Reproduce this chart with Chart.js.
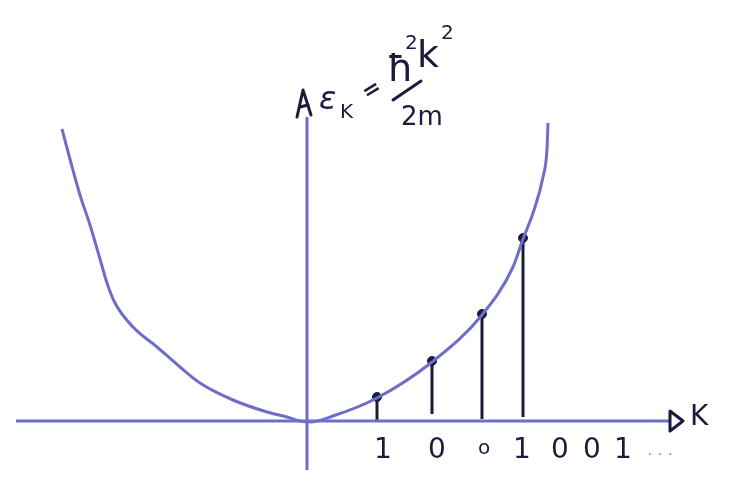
<!DOCTYPE html>
<html><head><meta charset="utf-8">
<script src="https://cdn.jsdelivr.net/npm/chart.js@4"></script>
<style>html,body{margin:0;padding:0;background:#fff}#w{width:747px;height:498px;position:relative}</style>
</head><body><div id="w"><canvas id="c"></canvas></div>
<script>
// Dispersion curve E_k = ħ²k²/2m (k and E in sketch units)
const curveK = [-2.46,-2.37,-2.28,-2.18,-2.08,-2.01,-1.93,-1.75,-1.51,-1.28,-1.08,-0.75,-0.41,-0.21,-0.08,0.02,0.25,0.69,1.24,1.74,2.05,2.15,2.25,2.35,2.39,2.40];
const curveE = [2.92,2.58,2.26,1.96,1.62,1.38,1.18,0.94,0.74,0.54,0.38,0.21,0.09,0.04,0.00,-0.01,0.05,0.23,0.59,1.06,1.54,1.82,2.08,2.44,2.72,2.98];
// occupied states (stems)
const stemK = [0.69,1.24,1.74,2.15];
const stemTopE = [0.24,0.60,1.07,1.83];
const stemBottomE = [0.00,0.07,0.02,0.04];
// bit string under the k axis
const bitLabels = ['1','0','o','1','0','0','1','. . .'];
const bitK = [0.75,1.29,1.76,2.14,2.52,2.84,3.15,3.52];
// axes extents
const kAxis = [-2.92,3.62];
const eAxis = [-0.49,3.04];

const BLUE = '#6e6ec8', NAVY = '#1b1b3d';
const datasets = [];
datasets.push({data:[{x:kAxis[0],y:0},{x:kAxis[1],y:0}],borderColor:BLUE,borderWidth:3,showLine:true,pointRadius:0});
datasets.push({data:[{x:-0.01,y:eAxis[0]},{x:-0.01,y:eAxis[1]}],borderColor:BLUE,borderWidth:3,showLine:true,pointRadius:0});
datasets.push({data:curveK.map((k,i)=>({x:k,y:curveE[i]})),borderColor:BLUE,borderWidth:3,showLine:true,pointRadius:0,cubicInterpolationMode:'monotone'});
stemK.forEach((k,i)=>{
  datasets.push({data:[{x:k,y:stemBottomE[i]},{x:k,y:stemTopE[i]}],borderColor:NAVY,borderWidth:3,showLine:true,pointRadius:0});
});
datasets.push({data:stemK.map((k,i)=>({x:k,y:stemTopE[i]})),showLine:false,pointRadius:4.5,pointBackgroundColor:NAVY,pointBorderColor:NAVY});

const deco = {
  id:'deco',
  afterDatasetsDraw(chart){
    const ctx = chart.ctx, xs = chart.scales.x, ys = chart.scales.y;
    ctx.save();
    ctx.strokeStyle = NAVY; ctx.fillStyle = NAVY; ctx.lineWidth = 3; ctx.lineCap='round'; ctx.lineJoin='round';
    // right arrow head
    const ax = xs.getPixelForValue(kAxis[1]), ay = ys.getPixelForValue(0);
    ctx.beginPath(); ctx.moveTo(ax,ay-10); ctx.lineTo(ax+13,ay); ctx.lineTo(ax,ay+10); ctx.closePath(); ctx.stroke();
    ctx.font = '28px "DejaVu Sans"'; ctx.textBaseline='middle'; ctx.textAlign='left';
    ctx.fillText('K', ax+20, ay-3);
    // top arrow head
    const tx = xs.getPixelForValue(-0.01), ty = ys.getPixelForValue(eAxis[1]);
    ctx.beginPath(); ctx.moveTo(tx-10,ty); ctx.lineTo(tx-4,ty-27); ctx.lineTo(tx+4,ty-2); ctx.stroke();
    ctx.beginPath(); ctx.moveTo(tx-7,ty-10); ctx.lineTo(tx+1,ty-12); ctx.stroke();
    // formula
    ctx.textBaseline='alphabetic';
    ctx.font = 'italic 32px "DejaVu Sans"'; ctx.fillText('\u03b5', tx+12, ty-8);
    ctx.font = '20px "DejaVu Sans"'; ctx.fillText('K', tx+33, ty+1);
    ctx.save(); ctx.translate(tx+64, ty-26); ctx.rotate(-0.55);
    ctx.font = 'bold 22px "DejaVu Sans"'; ctx.fillText('=', -8, 6); ctx.restore();
    ctx.font = '38px "DejaVu Sans"'; ctx.fillText('\u0127', tx+80, ty-36);
    ctx.font = '20px "DejaVu Sans"'; ctx.fillText('2', tx+98, ty-68);
    ctx.font = '38px "DejaVu Sans"'; ctx.fillText('k', tx+110, ty-50);
    ctx.font = '20px "DejaVu Sans"'; ctx.fillText('2', tx+134, ty-78);
    ctx.beginPath(); ctx.moveTo(tx+86, ty-17); ctx.lineTo(tx+114, ty-36); ctx.stroke();
    ctx.font = '26px "DejaVu Sans"'; ctx.fillText('2m', tx+94, ty+8);
    // bit labels
    ctx.textAlign='center'; ctx.textBaseline='middle';
    bitLabels.forEach((b,i)=>{
      const x = xs.getPixelForValue(bitK[i]), y = ys.getPixelForValue(0)+30;
      if (b.startsWith('.')) { ctx.fillStyle='#9a9aa6'; ctx.font='16px "DejaVu Sans"'; ctx.fillText(b,x,y); ctx.fillStyle=NAVY; }
      else if (b==='o') { ctx.font='20px "DejaVu Sans"'; ctx.fillText('o',x,y-2); }
      else { ctx.font='28px "DejaVu Sans"'; ctx.fillText(b,x,y); }
    });
    ctx.restore();
  }
};

new Chart(document.getElementById('c'), {
  type:'scatter',
  data:{datasets},
  options:{
    responsive:true, maintainAspectRatio:false, animation:false,
    layout:{padding:0, autoPadding:false},
    plugins:{legend:{display:false},tooltip:{enabled:false}},
    scales:{
      x:{type:'linear',display:false,min:-3.08,max:4.39},
      y:{type:'linear',display:false,min:-0.77,max:4.21}
    }
  },
  plugins:[deco]
});
</script></body></html>
